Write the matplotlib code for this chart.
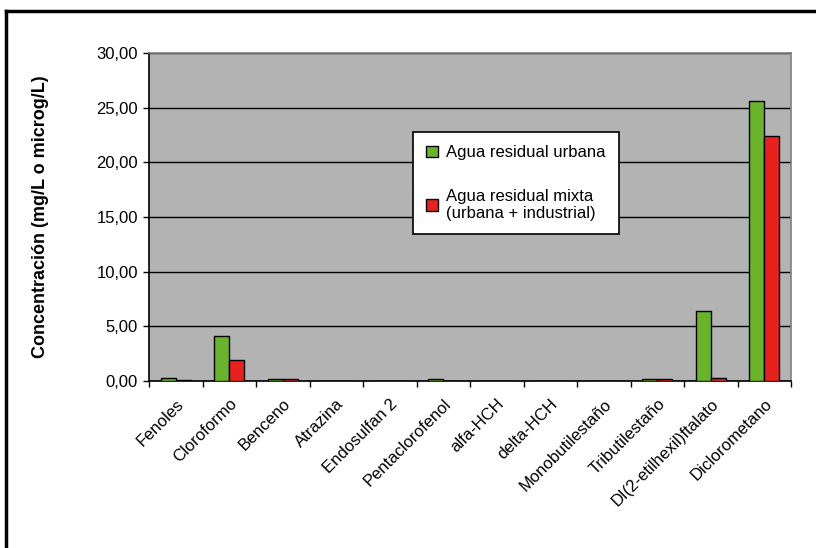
import matplotlib
matplotlib.use('Agg')
import matplotlib.pyplot as plt
from matplotlib.lines import Line2D
import numpy as np

plt.rcParams['font.family'] = ['Liberation Sans', 'DejaVu Sans']

categorias = ["Fenoles", "Cloroformo", "Benceno", "Atrazina", "Endosulfan 2",
              "Pentaclorofenol", "alfa-HCH", "delta-HCH", "Monobutilestaño",
              "Tributilestaño", "DI(2-etilhexil)ftalato", "Diclorometano"]
urbana = [0.25, 4.1, 0.15, 0.0, 0.0, 0.15, 0.0, 0.0, 0.0, 0.15, 6.4, 25.6]
mixta = [0.12, 1.9, 0.15, 0.0, 0.0, 0.0, 0.0, 0.0, 0.0, 0.15, 0.25, 22.4]
y_ticks = [0, 5, 10, 15, 20, 25, 30]
labels = ["Agua residual urbana", "Agua residual mixta\n(urbana + industrial)"]

fig = plt.figure(figsize=(8.16, 5.48), dpi=100)
ax = fig.add_axes([149 / 816, 1 - 381 / 548, 642 / 816, 328 / 548])
ax.set_facecolor('#b3b3b3')

x = np.arange(len(categorias))
w = 0.28
ax.bar(x - w / 2, urbana, w, color='#6ab42c', edgecolor='black', linewidth=1.0,
       label=labels[0], zorder=3)
ax.bar(x + w / 2, mixta, w, color='#e8211f', edgecolor='black', linewidth=1.0,
       label=labels[1], zorder=3)

ax.set_xlim(-0.5, len(categorias) - 0.5)
ax.set_ylim(0, 30)
ax.set_yticks(y_ticks)
ax.set_yticklabels([("%.2f" % v).replace('.', ',') for v in y_ticks])
ax.yaxis.grid(True, color='black', linewidth=1.0, zorder=1)
ax.set_axisbelow(True)

ax.set_xticks(x)
ax.set_xticklabels(categorias, rotation=45, ha='right', rotation_mode='anchor')
ax.set_xticks(np.arange(-0.5, len(categorias), 1), minor=True)
ax.tick_params(axis='x', which='major', length=0, labelsize=12, pad=11)
ax.tick_params(axis='x', which='minor', length=4, width=1, direction='out')
ax.tick_params(axis='y', length=4, width=1, direction='out', labelsize=12, pad=4)

ax.spines['left'].set_color('black')
ax.spines['bottom'].set_color('black')
ax.spines['top'].set_color('#7f7f7f')
ax.spines['right'].set_color('#7f7f7f')
for s in ax.spines.values():
    s.set_linewidth(1.2)

ax.set_ylabel("Concentración (mg/L o microg/L)", fontsize=13, fontweight='bold', labelpad=34)

leg = ax.legend(loc='upper left', bbox_to_anchor=(413 / 816, 1 - 132 / 548),
                bbox_transform=fig.transFigure, fontsize=12, frameon=True,
                fancybox=False, edgecolor='black', framealpha=1,
                handlelength=0.7, handleheight=0.7, handletextpad=0.5,
                labelspacing=1.7, borderpad=0.8, borderaxespad=0)
leg.get_frame().set_linewidth(1.2)

# marco negro de la figura
fig.add_artist(Line2D([6 / 816, 6 / 816], [0, 1 - 11 / 548], color='black', linewidth=2.5))
fig.add_artist(Line2D([6 / 816, 1], [1 - 11 / 548, 1 - 11 / 548], color='black', linewidth=2.5))

fig.savefig('out.png', dpi=100)
